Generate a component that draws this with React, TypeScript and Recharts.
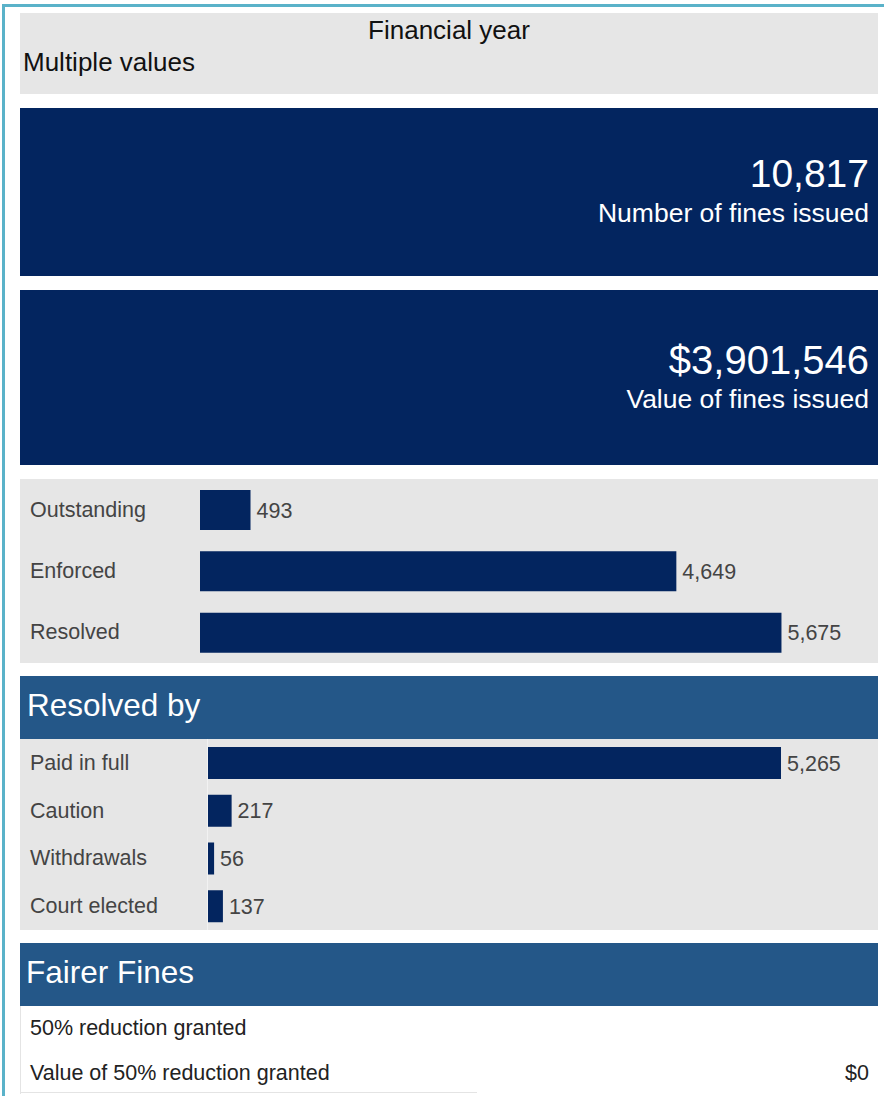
import { BarChart, Bar, XAxis, YAxis, LabelList } from "recharts";

// status of issued fines
const statusCategories = ["Outstanding", "Enforced", "Resolved"];
const statusValues = [493, 4649, 5675];

// how resolved fines were resolved
const resolvedCategories = ["Paid in full", "Caution", "Withdrawals", "Court elected"];
const resolvedValues = [5265, 217, 56, 137];

const finesIssued = 10817;
const finesValue = 3901546;
const reductionCount: number | null = null;
const reductionValue = 0;

const NAVY = "#03255f";
const HEADER = "#245788";
const GREY = "#e6e6e6";
const TEXT = "#444";
const FONT = "'Liberation Sans', Arial, sans-serif";
const LABEL_SIZE = 21.5;

const statusData = statusCategories.map((name, i) => ({ name, value: statusValues[i] }));
const resolvedData = resolvedCategories.map((name, i) => ({ name, value: resolvedValues[i] }));

const fmt = (v: number) => v.toLocaleString("en-US");

function LeftTick(props: any) {
  const { y, payload } = props;
  return (
    <text x={10} y={y} textAnchor="start" dominantBaseline="central" fill={TEXT} fontSize={LABEL_SIZE} fontFamily={FONT}>
      {payload.value}
    </text>
  );
}

function HBar({
  data,
  width,
  height,
  axisWidth,
  domainMax,
  barSize,
  right,
}: {
  data: { name: string; value: number }[];
  width: number;
  height: number;
  axisWidth: number;
  domainMax: number;
  barSize: number;
  right: number;
}) {
  return (
    <BarChart
      width={width}
      height={height}
      data={data}
      layout="vertical"
      margin={{ top: 0, right, bottom: 0, left: 0 }}
      barCategoryGap={0}
    >
      <XAxis type="number" domain={[0, domainMax]} hide />
      <YAxis
        type="category"
        dataKey="name"
        width={axisWidth}
        axisLine={false}
        tickLine={false}
        tick={<LeftTick />}
      />
      <Bar dataKey="value" fill={NAVY} barSize={barSize} isAnimationActive={false}>
        <LabelList
          dataKey="value"
          position="right"
          offset={6}
          formatter={(v: any) => fmt(Number(v))}
          style={{ fill: TEXT, fontSize: LABEL_SIZE, fontFamily: FONT }}
        />
      </Bar>
    </BarChart>
  );
}

const panel = (top: number, height: number, bg: string): React.CSSProperties => ({
  position: "absolute",
  left: 20,
  top,
  width: 858,
  height,
  background: bg,
  boxSizing: "border-box",
});

export default function App() {
  return (
    <div
      style={{
        position: "absolute",
        left: 0,
        top: 0,
        width: 884,
        height: 1096,
        background: "#fff",
        fontFamily: FONT,
        overflow: "hidden",
      }}
    >
      {/* teal frame */}
      <div style={{ position: "absolute", left: 2, top: 4, width: 882, height: 3, background: "#5ab2c9" }} />
      <div style={{ position: "absolute", left: 2, top: 4, width: 3, height: 1092, background: "#5ab2c9" }} />

      {/* filter */}
      <div style={panel(13, 81, GREY)}>
        <div style={{ position: "absolute", left: 0, right: 0, top: 2, textAlign: "center", fontSize: 26, color: "#111" }}>
          Financial year
        </div>
        <div style={{ position: "absolute", left: 3, top: 34, fontSize: 26, color: "#111" }}>Multiple values</div>
      </div>

      {/* KPI tiles */}
      <div style={panel(108, 168, NAVY)}>
        <div style={{ position: "absolute", right: 9, top: 44, fontSize: 39, color: "#fff" }}>{fmt(finesIssued)}</div>
        <div style={{ position: "absolute", right: 9, top: 90, fontSize: 26.5, color: "#fff" }}>Number of fines issued</div>
      </div>
      <div style={panel(290, 175, NAVY)}>
        <div style={{ position: "absolute", right: 9, top: 48, fontSize: 40, color: "#fff" }}>${fmt(finesValue)}</div>
        <div style={{ position: "absolute", right: 9, top: 94, fontSize: 26.5, color: "#fff" }}>Value of fines issued</div>
      </div>

      {/* status bars */}
      <div style={panel(479, 184, GREY)}>
        <HBar data={statusData} width={858} height={184} axisWidth={180} domainMax={6500} barSize={40} right={12} />
      </div>

      {/* resolved by */}
      <div style={panel(676, 63, HEADER)}>
        <div style={{ position: "absolute", left: 7, top: 11, fontSize: 31.5, color: "#fff" }}>Resolved by</div>
      </div>
      <div style={panel(739, 191, GREY)}>
        <div style={{ position: "absolute", left: 187, top: 0, width: 1, height: 191, background: "#f2f2f2" }} />
        <div style={{ position: "absolute", left: 0, top: 0 }}>
          <HBar data={resolvedData} width={858} height={191} axisWidth={188} domainMax={6000} barSize={32} right={17} />
        </div>
      </div>

      {/* fairer fines */}
      <div style={panel(943, 63, HEADER)}>
        <div style={{ position: "absolute", left: 6, top: 11, fontSize: 31.5, color: "#fff" }}>Fairer Fines</div>
      </div>
      <div style={{ ...panel(1006, 88, "#fff"), borderLeft: "1px solid #e4e4e4" }}>
        <div style={{ position: "absolute", left: 9, top: 10, fontSize: 21.5, color: "#222" }}>
          50% reduction granted
        </div>
        <div style={{ position: "absolute", right: 9, top: 10, fontSize: 21.5, color: "#222" }}>
          {reductionCount === null ? "" : fmt(reductionCount)}
        </div>
        <div style={{ position: "absolute", left: 9, top: 55, fontSize: 21.5, color: "#222" }}>
          Value of 50% reduction granted
        </div>
        <div style={{ position: "absolute", right: 9, top: 55, fontSize: 21.5, color: "#222" }}>${fmt(reductionValue)}</div>
        <div style={{ position: "absolute", left: 0, top: 86, width: 456, height: 1, background: "#e4e4e4" }} />
      </div>
    </div>
  );
}
